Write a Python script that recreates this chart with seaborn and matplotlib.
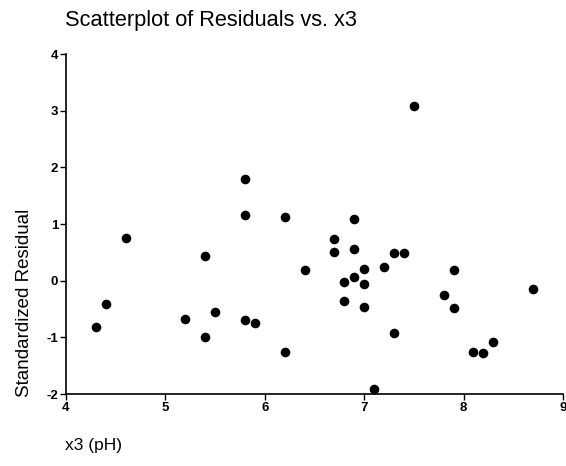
import numpy as np
import pandas as pd
import matplotlib
matplotlib.use("Agg")
import matplotlib.pyplot as plt
import seaborn as sns

# values
x3_ph = [4.3, 4.4, 4.6, 5.2, 5.4, 5.4, 5.5, 5.8, 5.8, 5.8, 5.9, 6.2, 6.2, 6.4,
         7.5, 6.9, 6.7, 6.7, 6.9, 7.3, 7.4, 7.2, 7.0, 7.9, 6.8, 6.9, 7.0,
         6.8, 7.0, 7.8, 7.9, 8.7, 7.3, 8.1, 8.2, 8.3, 7.1]
std_resid = [-0.81, -0.42, 0.75, -0.68, 0.44, -0.99, -0.55, 1.80, 1.16, -0.69, -0.74, 1.13, -1.26, 0.19,
             3.08, 1.08, 0.73, 0.50, 0.56, 0.48, 0.49, 0.24, 0.21, 0.19, -0.02, 0.07, -0.06,
             -0.36, -0.47, -0.25, -0.48, -0.15, -0.93, -1.25, -1.27, -1.09, -1.92]
x_ticks = [4, 5, 6, 7, 8, 9]
y_ticks = [-2, -1, 0, 1, 2, 3, 4]

df = pd.DataFrame({"x3": x3_ph, "resid": std_resid})

sns.set_theme(style="ticks")
plt.rcParams["font.family"] = ["Liberation Sans", "DejaVu Sans"]
plt.rcParams["text.color"] = "black"
plt.rcParams["xtick.color"] = "black"
plt.rcParams["ytick.color"] = "black"

fig = plt.figure(figsize=(5.66, 4.66), dpi=100)
ax = fig.add_axes([0.1166, 0.1545, 0.878, 0.7295])

sns.scatterplot(data=df, x="x3", y="resid", ax=ax, color="black",
                s=48, edgecolor="black", linewidth=0, clip_on=False)

ax.set_xlim(4, 9)
ax.set_ylim(-2, 4)
ax.set_xticks(x_ticks)
ax.set_yticks(y_ticks)
ax.set_xticklabels([str(t) for t in x_ticks], fontweight="bold", fontsize=9.5)
ax.set_yticklabels([str(t) for t in y_ticks], fontweight="bold", fontsize=9.5)
ax.tick_params(axis="both", length=4, width=1, color="black", pad=1.5)
ax.set_xlabel("")
ax.set_ylabel("")
for side in ["top", "right"]:
    ax.spines[side].set_visible(False)
for side in ["left", "bottom"]:
    ax.spines[side].set_color("black")
    ax.spines[side].set_linewidth(1.2)

fig.text(0.114, 0.957, "Scatterplot of Residuals vs. x3", fontsize=15.7,
         ha="left", va="center")
fig.text(0.044, 0.35, "Standardized Residual", fontsize=13.5, rotation=90,
         ha="center", va="center")
fig.text(0.114, 0.045, "x3 (pH)", fontsize=12.5, ha="left", va="center")

fig.savefig("out.png", dpi=100)
